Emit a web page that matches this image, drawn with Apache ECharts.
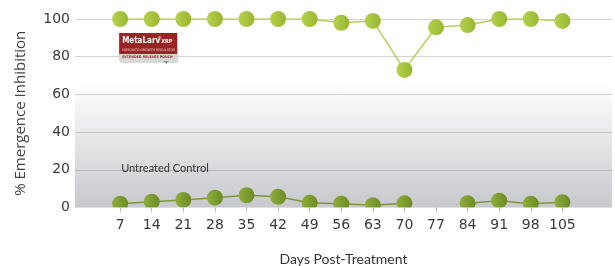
<!DOCTYPE html>
<html>
<head>
<meta charset="utf-8">
<script src="https://cdn.jsdelivr.net/npm/echarts@6/dist/echarts.min.js"></script>
<style>html,body{margin:0;padding:0;background:#fff}#c{width:615px;height:266px}</style>
</head>
<body>
<div id="c"></div>
<script>
var days = [7, 14, 21, 28, 35, 42, 49, 56, 63, 70, 77, 84, 91, 98, 105];
var treated = [100, 100, 100, 100, 100, 100, 100, 98, 99, 73, 95.6, 96.8, 100, 100, 99];
var control = [2, 3, 4, 5.2, 6.5, 5.7, 2.5, 2, 1.2, 2.2, null, 2.2, 3.6, 2, 2.8];
var yTicks = [0, 20, 40, 60, 80, 100];

function pairs(vals) {
  return days.map(function (d, i) { return [d, vals[i]]; });
}
function hgrad(a, b) {
  return { type: 'linear', x: 0, y: 0, x2: 1, y2: 0, colorStops: [{ offset: 0, color: a }, { offset: 1, color: b }] };
}

var chart = echarts.init(document.getElementById('c'));
var option = {
  animation: false,
  backgroundColor: '#fff',
  grid: { left: 75, right: 3, top: 19, bottom: 58.5, outerBoundsMode: 'none', containLabel: false },
  xAxis: {
    type: 'value', min: -3, max: 116, z: 4,
    name: 'Days Post-Treatment', nameLocation: 'middle', nameGap: 45,
    nameTextStyle: { fontFamily: 'Lato', fontSize: 14, color: '#333' },
    axisLine: { show: false },
    axisTick: { show: true, customValues: days, length: 5, lineStyle: { color: '#bbb' } },
    axisLabel: { customValues: days, margin: 11, fontFamily: 'DejaVu Sans', fontSize: 14, color: '#3a3a3a' },
    splitLine: { show: false }
  },
  yAxis: {
    type: 'value', min: 0, max: 100, interval: 20,
    name: '% Emergence Inhibition', nameLocation: 'middle', nameGap: 47,
    nameTextStyle: { fontFamily: 'Open Sans', fontSize: 15, color: '#444' },
    axisLine: { show: false }, axisTick: { show: false },
    axisLabel: { customValues: yTicks, margin: 5, fontFamily: 'DejaVu Sans', fontSize: 14, color: '#3a3a3a' },
    splitLine: { lineStyle: { color: '#d4d4d6', width: 1 } }
  },
  series: [
    {
      type: 'line', name: 'Untreated Control', data: pairs(control), z: 2,
      symbol: 'circle', symbolSize: 16, connectNulls: false,
      lineStyle: { color: '#7d9b33', width: 1.5 },
      itemStyle: { color: hgrad('#8fae3c', '#6b8a24') },
      markArea: {
        silent: true,
        itemStyle: {
          color: { type: 'linear', x: 0, y: 0, x2: 0, y2: 1, colorStops: [
            { offset: 0, color: 'rgba(40,45,60,0)' },
            { offset: 1, color: 'rgba(40,45,60,0.26)' }
          ] }
        },
        data: [[{ yAxis: 0 }, { yAxis: 66 }]]
      }
    },
    {
      type: 'line', name: 'MetaLarv XRP', data: pairs(treated), z: 2,
      symbol: 'circle', symbolSize: 16,
      lineStyle: { color: '#b5cf5e', width: 1.5 },
      itemStyle: { color: hgrad('#b6d24c', '#97b631') }
    }
  ]
};
chart.setOption(option);

var p0 = chart.convertToPixel({ gridIndex: 0 }, [-3, 0]);
var p1 = chart.convertToPixel({ gridIndex: 0 }, [116, 0]);
var lbl = chart.convertToPixel({ gridIndex: 0 }, [7, 6]);
var logo = chart.convertToPixel({ gridIndex: 0 }, [7, 92]);

chart.setOption({
  graphic: [
    { type: 'rect', z: 3, silent: true, shape: { x: p0[0], y: p0[1], width: p1[0] - p0[0], height: 10 }, style: { fill: '#fff' } },
    { type: 'text', z: 5, x: lbl[0] + 1, y: lbl[1] - 33, style: { text: 'Untreated Control', fontFamily: 'Lato', fontSize: 11, fill: '#333' } },
    {
      type: 'group', x: logo[0] - 1, y: 33, z: 5,
      children: [
        { type: 'rect', shape: { x: 1, y: 1, width: 58, height: 29 }, style: { fill: 'rgba(0,0,0,0.15)' } },
        { type: 'rect', shape: { x: 0, y: 0, width: 58, height: 21 }, style: { fill: '#9a2424' } },
        { type: 'rect', shape: { x: 0, y: 21, width: 58, height: 7 }, style: { fill: '#d7d7d7' } },
        { type: 'polygon', shape: { points: [[44, 28], [50, 28], [47, 31]] }, style: { fill: '#9a9a9a' } },
        { type: 'text', x: 3, y: 4, style: { text: 'MetaLarv', fontFamily: 'DejaVu Sans Condensed', fontWeight: 'bold', fontSize: 8, fill: '#fff' } },
        { type: 'text', x: 38.5, y: 3, style: { text: '®', fontFamily: 'DejaVu Sans', fontSize: 4, fill: '#fff' } },
        { type: 'text', x: 42, y: 6, style: { text: 'XRP', fontFamily: 'DejaVu Sans Condensed', fontWeight: 'bold', fontSize: 5.5, fill: '#fff' } },
        { type: 'text', x: 3, y: 15.5, style: { text: 'MOSQUITO GROWTH REGULATOR', fontFamily: 'DejaVu Sans Condensed', fontSize: 3.5, fill: '#e8c8c8' } },
        { type: 'text', x: 3, y: 22.5, style: { text: 'EXTENDED RELEASE POUCH', fontFamily: 'DejaVu Sans Condensed', fontWeight: 'bold', fontSize: 3.6, fill: '#9a2424' } }
      ]
    }
  ]
});
</script>
</body>
</html>
